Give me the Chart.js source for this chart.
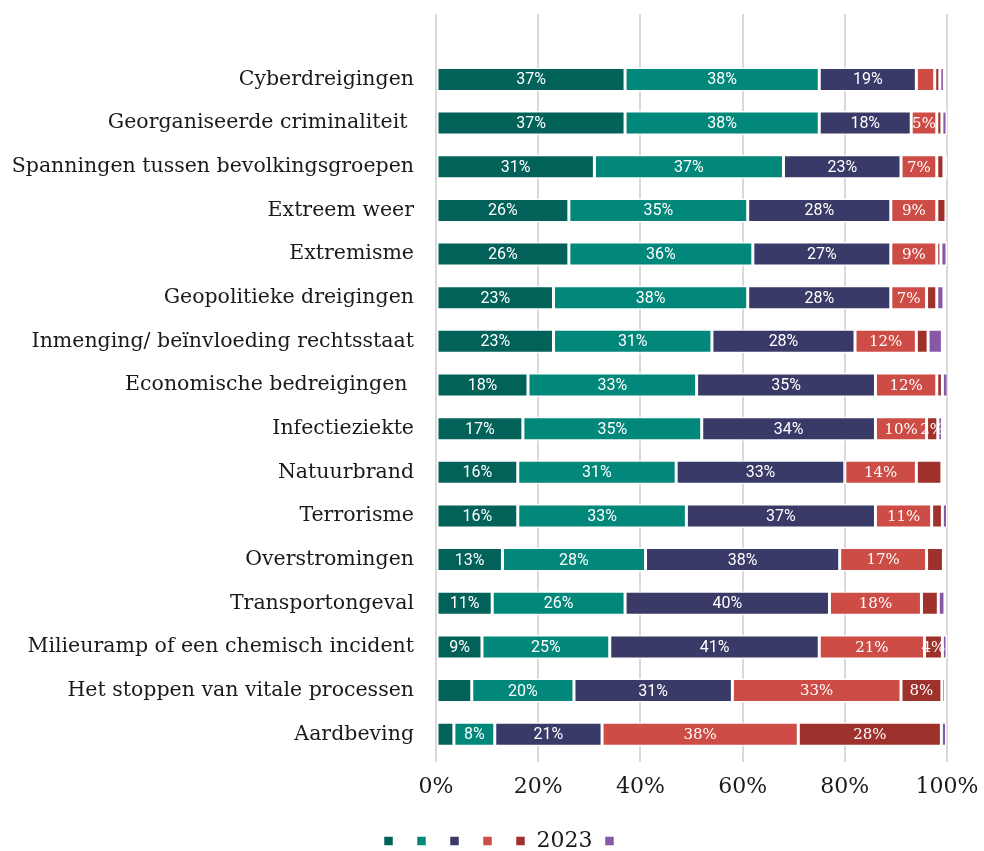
<!DOCTYPE html>
<html>
<head>
<meta charset="utf-8">
<script src="https://cdn.jsdelivr.net/npm/chart.js@4.4.1/dist/chart.umd.min.js"></script>
<style>
  html, body { margin: 0; padding: 0; background: #ffffff; }
  #wrap { width: 984px; height: 851px; position: relative; }
</style>
</head>
<body>
<div id="wrap"><canvas id="c" width="984" height="851"></canvas></div>
<script>
// Categories (top to bottom)
const categories = [
  'Cyberdreigingen',
  'Georganiseerde criminaliteit ',
  'Spanningen tussen bevolkingsgroepen',
  'Extreem weer',
  'Extremisme',
  'Geopolitieke dreigingen',
  'Inmenging/ beïnvloeding rechtsstaat',
  'Economische bedreigingen ',
  'Infectieziekte',
  'Natuurbrand',
  'Terrorisme',
  'Overstromingen',
  'Transportongeval',
  'Milieuramp of een chemisch incident',
  'Het stoppen van vitale processen',
  'Aardbeving'
];

// Series values (percent)
const series1 = [37, 37, 31, 26, 26, 23, 23, 18, 17, 16, 16, 13, 11, 9, 7, 3.5];
const series2 = [38, 38, 37, 35, 36, 38, 31, 33, 35, 31, 33, 28, 26, 25, 20, 8];
const series3 = [19, 18, 23, 28, 27, 28, 28, 35, 34, 33, 37, 38, 40, 41, 31, 21];
const series4 = [3.6, 5, 7, 9, 9, 7, 12, 12, 10, 14, 11, 17, 18, 20.6, 33, 38.4];
const series5 = [1, 1, 1.4, 1.8, 0.8, 2, 2.3, 1.1, 2.2, 5, 2.1, 3.3, 3.3, 3.5, 8, 28];
const series6 = [0.9, 1, 0.6, 0, 1.2, 1.4, 2.8, 1.1, 0.9, 0.3, 1, 0, 1.3, 0.9, 0.7, 1];

// Legend labels
const seriesNames = ['', '', '', '', '2023', ''];

// Which category indices show a value label, per series
const labelled1 = [0,1,2,3,4,5,6,7,8,9,10,11,12,13];
const labelled2 = [0,1,2,3,4,5,6,7,8,9,10,11,12,13,14,15];
const labelled3 = [0,1,2,3,4,5,6,7,8,9,10,11,12,13,14,15];
const labelled4 = [1,2,3,4,5,6,7,8,9,10,11,12,13,14,15];
const labelled5 = [8,13,14,15];
const labelled6 = [];

// X axis ticks
const xTicks = [0, 20, 40, 60, 80, 100];

const colors = ['#02625a', '#02877b', '#393a67', '#cd4c45', '#9e312b', '#8658a6'];
const labelFonts = ['16px "Roboto"', '16px "Roboto"', '16px "Roboto"', '15px "DejaVu Serif"', '15px "DejaVu Serif"', '16px "Roboto"'];
const allSeries = [series1, series2, series3, series4, series5, series6];
const allLabelled = [labelled1, labelled2, labelled3, labelled4, labelled5, labelled6];

const labels = [''].concat(categories);
const datasets = allSeries.map((s, i) => ({
  label: seriesNames[i],
  data: [null].concat(s),
  backgroundColor: colors[i],
  borderColor: '#ffffff',
  borderWidth: 1.5,
  borderSkipped: false,
  barPercentage: 0.55,
  categoryPercentage: 1.0
}));

const valueLabels = {
  id: 'valueLabels',
  afterDatasetsDraw(chart) {
    const ctx = chart.ctx;
    ctx.save();
    ctx.textAlign = 'center';
    ctx.textBaseline = 'middle';
    ctx.fillStyle = '#ffffff';
    chart.data.datasets.forEach((ds, di) => {
      const meta = chart.getDatasetMeta(di);
      const list = allLabelled[di];
      ctx.font = labelFonts[di];
      meta.data.forEach((el, idx) => {
        if (idx === 0) return;
        const v = ds.data[idx];
        if (v == null || !list.includes(idx - 1)) return;
        const cx = (el.x + el.base) / 2;
        ctx.fillText(Math.round(v) + '%', cx, el.y + 1);
      });
    });
    ctx.restore();
  }
};

const legendShift = {
  id: 'legendShift',
  afterLayout(chart) {
    const lg = chart.legend;
    if (!lg) return;
    lg.top += 11; lg.bottom += 11;
    lg.left += 28; lg.right += 28;
  }
};

new Chart(document.getElementById('c'), {
  type: 'bar',
  data: { labels, datasets },
  options: {
    indexAxis: 'y',
    responsive: false,
    animation: false,
    layout: { padding: { top: 14, right: 37, left: 6, bottom: 0 } },
    scales: {
      x: {
        stacked: true,
        min: 0,
        max: 100,
        afterBuildTicks(scale) { scale.ticks = xTicks.map(v => ({ value: v })); },
        afterFit(scale) { scale.height = 51; scale.paddingLeft = 0; scale.paddingRight = 0; },
        grid: { color: '#d9d9d9', lineWidth: 2, drawTicks: true, tickLength: 6 },
        border: { display: false },
        ticks: {
          padding: 12,
          color: '#1a1a1a',
          font: { family: 'DejaVu Serif', size: 22 },
          callback: v => v + '%'
        }
      },
      y: {
        stacked: true,
        grid: { display: false, drawTicks: false },
        border: { display: false },
        afterFit(scale) { scale.width = 430; scale.paddingTop = 0; scale.paddingBottom = 0; },
        ticks: {
          padding: 22,
          color: '#1a1a1a',
          font: { family: 'DejaVu Serif', size: 20.5 },
          autoSkip: false
        }
      }
    },
    plugins: {
      legend: {
        position: 'bottom',
        labels: {
          boxWidth: 10,
          boxHeight: 10,
          padding: 12,
          color: '#1a1a1a',
          font: { family: 'DejaVu Serif', size: 22 }
        }
      },
      tooltip: { enabled: false }
    }
  },
  plugins: [valueLabels, legendShift]
});
</script>
</body>
</html>
